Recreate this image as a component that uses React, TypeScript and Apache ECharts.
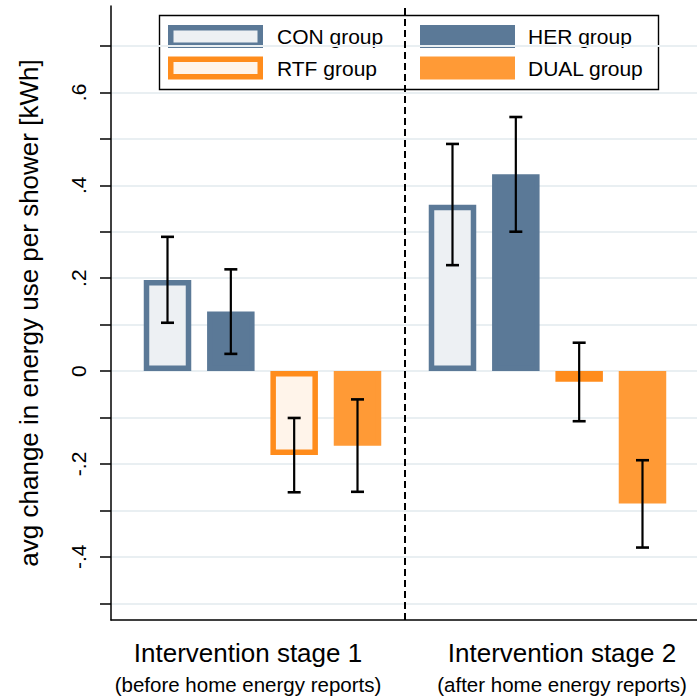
import React, { useEffect, useRef } from "react";
import * as echarts from "echarts";

// ---- data ----
const stages = ["Intervention stage 1", "Intervention stage 2"];
const stageNotes = ["(before home energy reports)", "(after home energy reports)"];
const groups = ["CON group", "HER group", "RTF group", "DUAL group"];

const conMean = [0.196, 0.358];
const herMean = [0.128, 0.424];
const rtfMean = [-0.181, -0.023];
const dualMean = [-0.161, -0.285];

const conLow = [0.104, 0.228];
const conHigh = [0.289, 0.489];
const herLow = [0.037, 0.3];
const herHigh = [0.219, 0.547];
const rtfLow = [-0.261, -0.108];
const rtfHigh = [-0.101, 0.061];
const dualLow = [-0.26, -0.38];
const dualHigh = [-0.061, -0.192];

const yTickValues = [-0.5, -0.4, -0.3, -0.2, -0.1, 0, 0.1, 0.2, 0.3, 0.4, 0.5, 0.6, 0.7];
const yLabelValues = [-0.4, -0.2, 0, 0.2, 0.4, 0.6];

// ---- styles / layout ----
const FONT = "'Liberation Sans', Arial, Helvetica, sans-serif";
const BLUE = "#5b7997";
const BLUE_LIGHT = "#edf0f3";
const ORANGE_LINE = "#ff8c1c";
const ORANGE_LIGHT = "#fff4ea";
const ORANGE = "#ff9a36";
const BAR_W = 47.5;
const BAR_GAP = 1 / 3;
const BORDER = 5.5;
const LABEL_SHIFT = 0.0509; // stage labels sit slightly outward of the bar groups

const means = [conMean, herMean, rtfMean, dualMean];
const lows = [conLow, herLow, rtfLow, dualLow];
const highs = [conHigh, herHigh, rtfHigh, dualHigh];
const fills = [BLUE_LIGHT, BLUE, ORANGE_LIGHT, ORANGE];
const borders = [BLUE, BLUE, ORANGE_LINE, ORANGE];

function fmtY(v: number) {
  if (Math.abs(v) < 1e-9) return "0";
  const s = (Math.round(v * 10) / 10).toString();
  return s.replace(/^(-?)0\./, "$1.");
}

export default function App() {
  const ref = useRef<HTMLDivElement>(null);

  useEffect(() => {
    if (!ref.current) return;
    const chart = echarts.init(ref.current, undefined, { renderer: "svg" });

    const barSeries: any[] = groups.map((g, gi) => ({
      type: "bar",
      name: g,
      data: stages.map((_, si) => [si, means[gi][si]]),
      barWidth: BAR_W,
      barGap: (BAR_GAP * 100).toFixed(2) + "%",
      itemStyle: {
        color: fills[gi],
        borderColor: borders[gi],
        borderWidth: BORDER,
      },
      z: 3,
    }));

    const errData: number[][] = [];
    groups.forEach((_, gi) => {
      stages.forEach((__, si) => {
        errData.push([si, gi, lows[gi][si], highs[gi][si]]);
      });
    });

    const step = BAR_W * (1 + BAR_GAP);

    const errSeries = {
      type: "custom",
      name: "ci",
      data: errData,
      encode: { x: 0, y: [2, 3] },
      z: 10,
      renderItem: (params: any, api: any) => {
        const si = api.value(0);
        const gi = api.value(1);
        const lo = api.coord([si, api.value(2)]);
        const hi = api.coord([si, api.value(3)]);
        const x = lo[0] + (gi - 1.5) * step;
        const cap = 6.5;
        return {
          type: "group",
          children: [
            { type: "line", shape: { x1: x, y1: hi[1], x2: x, y2: lo[1] }, style: { stroke: "#000", lineWidth: 2.2 } },
            { type: "line", shape: { x1: x - cap, y1: hi[1], x2: x + cap, y2: hi[1] }, style: { stroke: "#000", lineWidth: 2.6 } },
            { type: "line", shape: { x1: x - cap, y1: lo[1], x2: x + cap, y2: lo[1] }, style: { stroke: "#000", lineWidth: 2.6 } },
          ],
        };
      },
      markLine: {
        silent: true,
        symbol: "none",
        label: { show: false },
        lineStyle: { color: "#000", width: 2, type: [7, 4] },
        data: [{ xAxis: 0.5 }],
      },
    };

    const legendRows = [
      [0, 1],
      [2, 3],
    ];
    const legendChildren: any[] = [
      {
        type: "rect",
        shape: { x: 159.5, y: 15.5, width: 499, height: 74 },
        style: { fill: "#fff", stroke: "#000", lineWidth: 1.4 },
      },
    ];
    legendRows.forEach((row, ri) => {
      row.forEach((gi, ci) => {
        const sx = ci === 0 ? 168 : 420;
        const sy = ri === 0 ? 25 : 56.5;
        const w = 95;
        const h = 23;
        const hollow = gi === 0 || gi === 2;
        legendChildren.push({
          type: "rect",
          shape: hollow
            ? { x: sx + BORDER / 2, y: sy + BORDER / 2, width: w - BORDER, height: h - BORDER }
            : { x: sx, y: sy, width: w, height: h },
          style: hollow
            ? { fill: fills[gi], stroke: borders[gi], lineWidth: BORDER }
            : { fill: fills[gi] },
        });
        legendChildren.push({
          type: "text",
          x: ci === 0 ? 277 : 528,
          y: sy + h / 2,
          style: {
            text: groups[gi],
            fontSize: 21,
            fontFamily: FONT,
            fill: "#000",
            verticalAlign: "middle",
            align: "left",
          },
        });
      });
    });

    const option: any = {
      animation: false,
      backgroundColor: "#fff",
      textStyle: { fontFamily: FONT },
      grid: {
        left: 111,
        right: 0,
        top: 6,
        bottom: 77,
        containLabel: false,
        outerBoundsMode: "none",
      },
      xAxis: {
        type: "value",
        min: -0.5316,
        max: 1.5246,
        axisLine: { show: true, onZero: false, lineStyle: { color: "#000", width: 1.5 } },
        axisTick: { show: false },
        splitLine: { show: false },
        axisLabel: {
          customValues: [0 - LABEL_SHIFT, 1 + LABEL_SHIFT],
          showMinLabel: true,
          showMaxLabel: true,
          hideOverlap: false,
          margin: 17.5,
          color: "#000",
          fontFamily: FONT,
          formatter: (v: number) => {
            const i = v < 0.5 ? 0 : 1;
            return `{t|${stages[i]}}\n{s|${stageNotes[i]}}`;
          },
          rich: {
            t: { fontSize: 26, lineHeight: 31, fontFamily: FONT, color: "#000" },
            s: { fontSize: 20.5, lineHeight: 31, fontFamily: FONT, color: "#000" },
          },
        },
      },
      yAxis: {
        type: "value",
        min: -0.536,
        max: 0.786,
        minInterval: 0.1,
        maxInterval: 0.1,
        name: "avg change in energy use per shower [kWh]",
        nameLocation: "middle",
        nameRotate: 90,
        nameGap: 69,
        nameMoveOverlap: false,
        nameTextStyle: { fontSize: 26, fontFamily: FONT, color: "#000" },
        axisLine: { show: true, onZero: false, lineStyle: { color: "#000", width: 1.5 } },
        axisTick: {
          show: true,
          customValues: yTickValues,
          length: 11,
          lineStyle: { color: "#000", width: 1.5 },
        },
        axisLabel: {
          customValues: yLabelValues,
          rotate: 90,
          margin: 22,
          fontSize: 21,
          fontFamily: FONT,
          color: "#000",
          formatter: (v: number) => fmtY(v),
        },
        splitLine: { show: true, lineStyle: { color: "#e9eff2", width: 2 } },
      },
      graphic: [{ type: "group", z: 100, children: legendChildren }],
      series: [...barSeries, errSeries],
    };

    chart.setOption(option);
    return () => chart.dispose();
  }, []);

  return (
    <div
      ref={ref}
      style={{ position: "fixed", left: 0, top: 0, width: 697, height: 697, background: "#fff" }}
    />
  );
}
